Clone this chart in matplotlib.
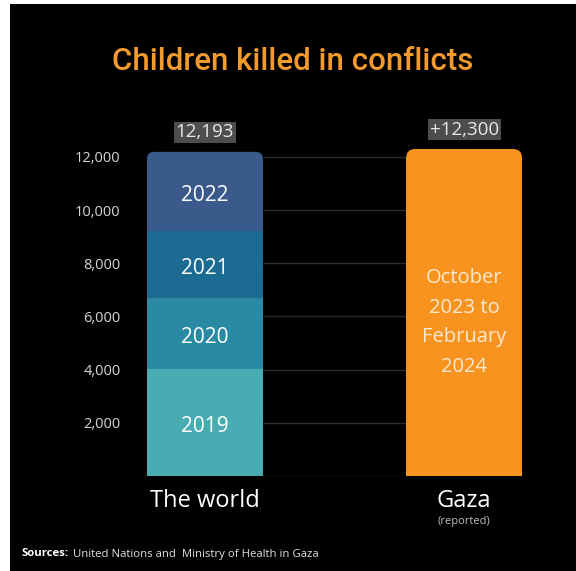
import matplotlib.pyplot as plt
from matplotlib.patches import FancyBboxPatch, Rectangle

years = ['2019', '2020', '2021', '2022']
world_killed = [4019, 2674, 2515, 2985]
world_colors = ['#49acb2', '#2b8aa3', '#1c6b93', '#3a5a8c']
gaza_killed = 12300
gaza_color = '#f7931e'
categories = ['The world', 'Gaza']
world_label = '12,193'
gaza_label = '+12,300'
gaza_period = 'October\n2023 to\nFebruary\n2024'
yticks = [2000, 4000, 6000, 8000, 10000, 12000]

W, H = 576, 571
fig = plt.figure(figsize=(W / 100, H / 100), dpi=100, facecolor='white')
fig.patches.append(Rectangle((10 / W, 0), 1, (H - 4) / H, transform=fig.transFigure,
                             facecolor='black', edgecolor='none', zorder=-10))

plt.rcParams['font.family'] = ['Open Sans', 'DejaVu Sans']

bw = 0.447
ymax = 13000
ax_l, ax_r = 147 / W, 522 / W
ax_b = (H - 476) / H
ax_h = 345.6 / H
ax = fig.add_axes([ax_l, ax_b, ax_r - ax_l, ax_h])
ax.set_facecolor('none')
ax.set_xlim(-bw / 2, 1 + bw / 2)
ax.set_ylim(0, ymax)
for s in ax.spines.values():
    s.set_visible(False)

# aspect between x and y data units, so corners stay round on screen
px_x = (ax_r - ax_l) * W / (1 + bw)
px_y = ax_h * H / ymax
aspect = px_x / px_y


def rounded_bar(x, bottom, top, color, r_px):
    r = r_px / px_x
    ry = r_px / px_y
    ax.add_patch(FancyBboxPatch((x - bw / 2, top - 3 * ry), bw, 3 * ry,
                                boxstyle=f'round,pad=0,rounding_size={r}',
                                mutation_aspect=aspect, facecolor=color,
                                edgecolor='none', zorder=3))
    ax.add_patch(Rectangle((x - bw / 2, bottom), bw, top - bottom - ry,
                           facecolor=color, edgecolor='none', zorder=3))


# gridlines only between the two bars
ax.hlines([0] + yticks, bw / 2, 1 - bw / 2, color='#2b2b2b', lw=1, zorder=1)

# the world: stacked by year
bottom = 0
for i, (yr, v, c) in enumerate(zip(years, world_killed, world_colors)):
    if i == len(years) - 1:
        rounded_bar(0, bottom, bottom + v, c, 7)
    else:
        ax.bar(0, v, bw, bottom=bottom, color=c, zorder=3)
    ax.annotate(yr, (0, bottom + v / 2), xytext=(0, -3), textcoords='offset points',
                ha='center', va='center', color='white', fontsize=15, zorder=4)
    bottom += v
world_total = bottom

# gaza
rounded_bar(1, 0, gaza_killed, gaza_color, 9)
ax.annotate(gaza_period, (1, gaza_killed * 0.5 - 300), xytext=(0, -1.5),
            textcoords='offset points', ha='center', va='center',
            color='#fbe9d0', fontsize=14.5, linespacing=1.65, zorder=4)

# totals above bars
for x, top, lab in [(0, world_total, world_label), (1, gaza_killed, gaza_label)]:
    ax.annotate(lab, (x, top), xytext=(0, 14), textcoords='offset points',
                ha='center', va='center', color='#e8e8e8', fontsize=13.5,
                bbox=dict(boxstyle='square,pad=0.1', facecolor='#4d4d4d',
                          edgecolor='none'))

ax.set_yticks(yticks)
ax.set_yticklabels([f'{t:,}' for t in yticks], color='#d6d6d6', fontsize=10.5)
ax.tick_params(axis='y', length=0, pad=19)
ax.set_xticks([])

# category labels under the bars
for x, lab in zip([0, 1], categories):
    ax.annotate(lab, (x, 0), xytext=(0, -18), textcoords='offset points',
                ha='center', va='center', color='white', fontsize=17)
ax.annotate('(reported)', (1, 0), xytext=(0, -33), textcoords='offset points',
            ha='center', va='center', color='#bdbdbd', fontsize=8)

fig.text(293 / W, 1 - 62 / H, 'Children killed in conflicts', ha='center',
         va='center', color='#f39a2c', fontsize=22.5, fontweight='medium',
         family=['Roboto', 'DejaVu Sans'])

fig.text(22 / W, 1 - 554 / H, 'Sources:', ha='left', va='center', color='white',
         fontsize=8.2, fontweight='bold')
fig.text(73 / W, 1 - 554 / H, 'United Nations and  Ministry of Health in Gaza',
         ha='left', va='center', color='#e0e0e0', fontsize=8.2)

fig.savefig('out.png', dpi=100, facecolor=fig.get_facecolor())
